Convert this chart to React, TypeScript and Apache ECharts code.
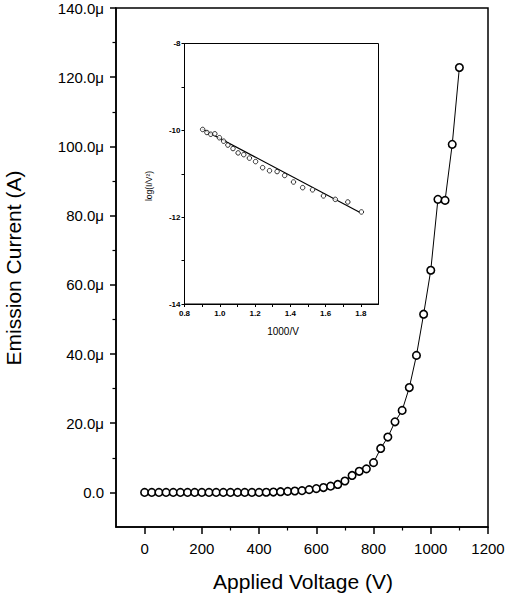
import React, { useEffect, useRef } from 'react';
import * as echarts from 'echarts';

// Main curve: applied voltage (V) vs emission current (µA)
const voltage = [
  0, 25, 50, 75, 100, 125, 150, 175, 200, 225, 250, 275, 300, 325, 350, 375, 400,
  425, 450, 475, 500, 525, 550, 575, 600, 625, 650, 675, 700, 725, 750, 775, 800,
  825, 850, 875, 900, 925, 950, 975, 1000, 1025, 1050, 1075, 1100,
];
const current = [
  0, 0, 0, 0, 0, 0, 0, 0, 0, 0, 0, 0, 0, 0, 0, 0, 0,
  0.05, 0.1, 0.2, 0.3, 0.4, 0.5, 0.8, 1.1, 1.4, 1.8, 2.3, 3.3, 4.9, 6.1, 6.8, 8.6,
  12.7, 16.0, 20.4, 23.7, 30.3, 39.6, 51.5, 64.2, 84.7, 84.4, 100.6, 122.8,
];

// Inset: Fowler-Nordheim plot
const invV = [
  0.903, 0.927, 0.949, 0.972, 0.998, 1.022, 1.046, 1.075, 1.104, 1.136, 1.168, 1.203,
  1.243, 1.282, 1.325, 1.368, 1.418, 1.47, 1.526, 1.588, 1.655, 1.726, 1.803,
];
const logIV2 = [
  -9.98, -10.05, -10.09, -10.08, -10.17, -10.25, -10.34, -10.42, -10.52, -10.56, -10.64, -10.72,
  -10.86, -10.93, -10.95, -11.04, -11.19, -11.32, -11.37, -11.51, -11.59, -11.65, -11.88,
];
const fitX = [0.9, 1.79];
const fitY = [-9.97, -11.88];

// Tick values
const xMajor = [0, 200, 400, 600, 800, 1000, 1200];
const xMinor = [100, 300, 500, 700, 900, 1100];
const yMajor = [0, 20, 40, 60, 80, 100, 120, 140];
const yMinor = [10, 30, 50, 70, 90, 110, 130];
const insetXLabels = [0.8, 1.0, 1.2, 1.4, 1.6, 1.8];
const insetXTicks = [0.8, 0.9, 1.0, 1.1, 1.2, 1.3, 1.4, 1.5, 1.6, 1.7, 1.8];

const FONT = '"Liberation Sans", Arial, Helvetica, sans-serif';

export default function App() {
  const ref = useRef<HTMLDivElement>(null);

  useEffect(() => {
    if (!ref.current) return;
    const chart = echarts.init(ref.current, null, { renderer: 'svg' });
    const black = '#000';
    const mainSeries = voltage.map((v, i) => [v, current[i]]);
    const insetSeries = invV.map((v, i) => [v, logIV2[i]]);
    const fitSeries = fitX.map((v, i) => [v, fitY[i]]);

    chart.setOption({
      animation: false,
      backgroundColor: '#fff',
      textStyle: { fontFamily: FONT },
      grid: [
        {
          left: 116, right: 22, top: 8, bottom: 69,
          show: true, borderColor: black, borderWidth: 1.5, backgroundColor: 'transparent',
        },
        {
          left: 184.5, right: 131.5, top: 43.5, bottom: 292,
          show: true, borderColor: black, borderWidth: 1, backgroundColor: '#fff',
        },
      ],
      xAxis: [
        {
          gridIndex: 0, type: 'value', min: -100, max: 1200, position: 'bottom',
          axisLine: { onZero: false, lineStyle: { color: black, width: 1.5 } },
          axisTick: { customValues: xMajor, length: 7, lineStyle: { color: black, width: 1.5 } },
          axisLabel: {
            customValues: xMajor, color: black, fontSize: 15, margin: 14, fontFamily: FONT,
            formatter: (v: number) => String(v),
          },
          splitLine: { show: false },
        },
        {
          gridIndex: 0, type: 'value', min: -100, max: 1200, position: 'bottom',
          axisLine: { show: false, onZero: false },
          axisTick: { customValues: xMinor, length: 3.5, lineStyle: { color: black, width: 1.2 } },
          axisLabel: { show: false },
          splitLine: { show: false },
        },
        {
          gridIndex: 1, type: 'value', min: 0.8, max: 1.9, position: 'bottom',
          axisLine: { onZero: false, lineStyle: { color: black, width: 1 } },
          axisTick: { customValues: insetXTicks, length: 3, lineStyle: { color: black, width: 1 } },
          axisLabel: {
            customValues: insetXLabels, color: black, fontSize: 8, fontWeight: 'bold', margin: 5,
            fontFamily: FONT, formatter: (v: number) => v.toFixed(1),
          },
          splitLine: { show: false },
        },
      ],
      yAxis: [
        {
          gridIndex: 0, type: 'value', min: -10, max: 140, position: 'left',
          axisLine: { onZero: false, lineStyle: { color: black, width: 1.5 } },
          axisTick: { customValues: yMajor, length: 6, lineStyle: { color: black, width: 1.5 } },
          axisLabel: {
            customValues: yMajor, color: black, fontSize: 15, margin: 12, fontFamily: FONT,
            formatter: (v: number) => (v === 0 ? '0.0' : v.toFixed(1) + 'μ'),
          },
          splitLine: { show: false },
        },
        {
          gridIndex: 0, type: 'value', min: -10, max: 140, position: 'left',
          axisLine: { show: false, onZero: false },
          axisTick: { customValues: yMinor, length: 3.5, lineStyle: { color: black, width: 1.2 } },
          axisLabel: { show: false },
          splitLine: { show: false },
        },
        {
          gridIndex: 1, type: 'value', min: -14, max: -8, interval: 1, position: 'left',
          axisLine: { onZero: false, lineStyle: { color: black, width: 1 } },
          axisTick: { length: 3, lineStyle: { color: black, width: 1 } },
          axisLabel: {
            color: black, fontSize: 8, fontWeight: 'bold', margin: 4, fontFamily: FONT,
            formatter: (v: number) => (Math.round(v) % 2 === 0 ? String(v) : ''),
          },
          splitLine: { show: false },
        },
      ],
      series: [
        {
          type: 'line', xAxisIndex: 0, yAxisIndex: 0, data: mainSeries,
          symbol: 'circle', symbolSize: 7.5,
          lineStyle: { color: black, width: 1 },
          itemStyle: { color: '#fff', borderColor: black, borderWidth: 1.6 },
          z: 3,
        },
        {
          type: 'line', xAxisIndex: 2, yAxisIndex: 2, data: fitSeries,
          showSymbol: false, symbol: 'none',
          lineStyle: { color: black, width: 1.2 },
          z: 4,
        },
        {
          type: 'scatter', xAxisIndex: 2, yAxisIndex: 2, data: insetSeries,
          symbol: 'circle', symbolSize: 4.5,
          itemStyle: { color: '#fff', borderColor: black, borderWidth: 1 },
          z: 5,
        },
      ],
      graphic: [
        {
          type: 'text', x: 13, y: 268, rotation: Math.PI / 2,
          style: {
            text: 'Emission Current (A)', fontSize: 21, fontFamily: FONT, fill: black,
            textAlign: 'center', textVerticalAlign: 'middle',
          },
        },
        {
          type: 'text', x: 303, y: 581,
          style: {
            text: 'Applied Voltage (V)', fontSize: 21, fontFamily: FONT, fill: black,
            textAlign: 'center', textVerticalAlign: 'middle',
          },
        },
        {
          type: 'text', x: 149, y: 186, rotation: Math.PI / 2, z: 10,
          style: {
            text: 'log(I/V²)', fontSize: 8.5, fontFamily: FONT, fill: black,
            textAlign: 'center', textVerticalAlign: 'middle',
          },
        },
        {
          type: 'text', x: 283, y: 331, z: 10,
          style: {
            text: '1000/V', fontSize: 10, fontFamily: FONT, fill: black,
            textAlign: 'center', textVerticalAlign: 'middle',
          },
        },
      ],
    });

    return () => chart.dispose();
  }, []);

  return (
    <div
      ref={ref}
      style={{ position: 'absolute', left: 0, top: 0, width: 510, height: 596 }}
    />
  );
}
